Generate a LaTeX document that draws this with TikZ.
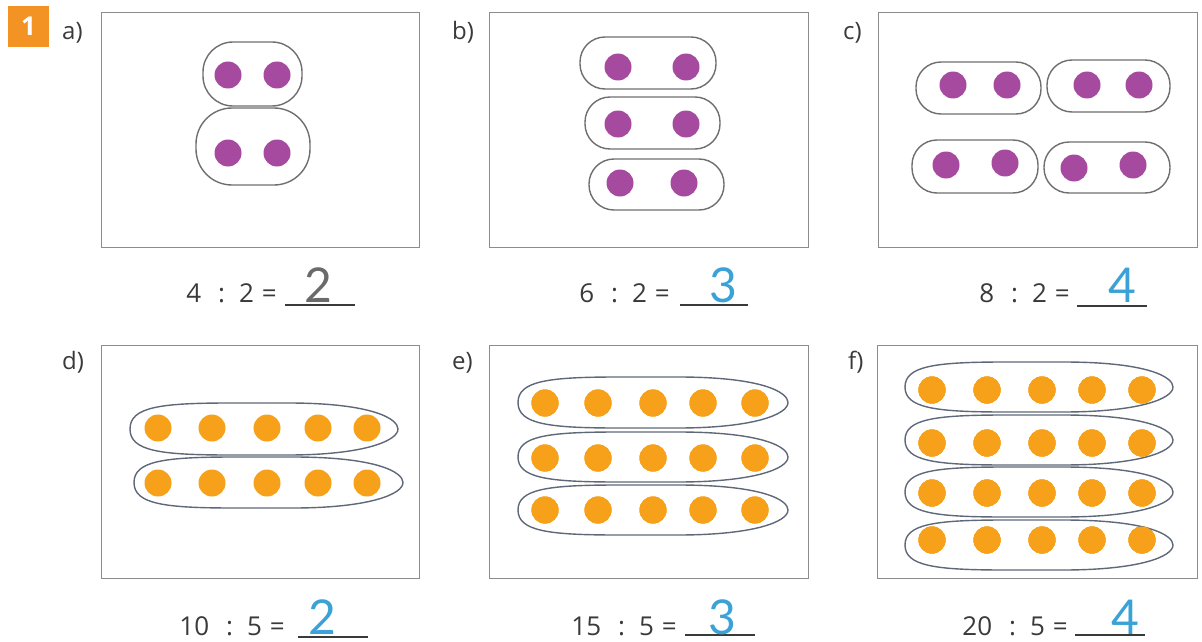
\documentclass[tikz,border=0pt]{standalone}
\usepackage{fontspec}
\setmainfont{Open Sans}
\newfontfamily\handfont{Lato}
\definecolor{dotpurple}{HTML}{A54A9F}
\definecolor{dotorange}{HTML}{F7A11A}
\definecolor{inkblue}{HTML}{3AA2D6}
\definecolor{inkgray}{HTML}{6A6A6A}
\definecolor{tagorange}{HTML}{F39324}
\definecolor{textgray}{HTML}{3A3A3A}
\definecolor{ringgray}{HTML}{6E6E6E}
\definecolor{ringblue}{HTML}{5E6878}
\tikzset{
  panel/.style={draw=black!45, line width=1pt},
  ringp/.style={draw=ringgray, line width=1.4pt},
  ringo/.style={draw=ringblue, line width=1.4pt},
  dotp/.style={fill=dotpurple},
  doto/.style={fill=dotorange},
  eqn/.style={anchor=base east, text=textgray, inner sep=0pt, font=\fontsize{26}{30}\selectfont},
  answer/.style={anchor=base, inner sep=0pt, font=\handfont\fontsize{48}{52}\selectfont},
  tag/.style={anchor=base west, text=textgray, inner sep=0pt, font=\fontsize{24}{28}\selectfont},
  gap/.style={textgray, line width=1.2pt}
}
% long loop round a row of dots: left x, right x, top y, bottom y
\newcommand\pill[4]{%
  \draw[ringo] (#1,{(#3+#4)/2}) .. controls (#1,#3+4) and (#1+30,#3) .. (#1+100,#3)
    -- (#2-110,#3) .. controls (#2-25,#3) and (#2,{(#3+#4)/2-10}) .. (#2,{(#3+#4)/2})
    .. controls (#2,{(#3+#4)/2+12}) and (#2-35,#4) .. (#2-110,#4)
    -- (#1+100,#4) .. controls (#1+30,#4) and (#1,#4-4) .. cycle;}
\newcommand\eq[3]{#1\hspace{17pt}:\hspace{14pt}#2\hspace{8pt}#3}
\begin{document}
\begin{tikzpicture}[x=1pt,y=-1pt]
\useasboundingbox (0,0) rectangle (1202,642);

% task number
\fill[tagorange] (8,6) rectangle (49,47);
\node[text=white, font=\bfseries\fontsize{26}{30}\selectfont] (num) at (28.5,26.5) {1};

% frames
\draw[panel] (101,13) rectangle (419,247);
\draw[panel] (489,13) rectangle (808,247);
\draw[panel] (878,13) rectangle (1197,247);
\draw[panel] (101,345) rectangle (419,578);
\draw[panel] (489,345) rectangle (808,578);
\draw[panel] (877,345) rectangle (1197,578);

\node[tag] (la) at (62,40) {a)};
\node[tag] (lb) at (452,40) {b)};
\node[tag] (lc) at (843,40) {c)};
\node[tag] (ld) at (62,369) {d)};
\node[tag] (le) at (452,369) {e)};
\node[tag] (lf) at (848,369) {f)};

% a)
\draw[ringp, rounded corners=30pt] (203,42) rectangle (302,106);
\draw[ringp, rounded corners=36pt] (196,108) rectangle (310,185);
\foreach \x/\y in {228/75, 277/75, 228/153, 277/153}
  \fill[dotp] (\x,\y) circle[radius=13.5];

% b)
\draw[ringp, rounded corners=25pt] (580,37) rectangle (716,89);
\draw[ringp, rounded corners=25pt] (585,97) rectangle (720,149);
\draw[ringp, rounded corners=25pt] (589,159) rectangle (724,210);
\foreach \x/\y in {618/67, 686/67, 618/124, 686/124, 620/183, 684/183}
  \fill[dotp] (\x,\y) circle[radius=13.5];

% c)
\draw[ringp, rounded corners=25pt] (916,62) rectangle (1041,114);
\draw[ringp, rounded corners=25pt] (1047,60) rectangle (1170,112);
\draw[ringp, rounded corners=25pt] (912,140) rectangle (1038,193);
\draw[ringp, rounded corners=25pt] (1044,142) rectangle (1170,193);
\foreach \x/\y in {953/85, 1007/85, 1087/85, 1139/85, 946/165, 1005/163, 1074/168, 1133/165}
  \fill[dotp] (\x,\y) circle[radius=13.5];

% d)
\pill{130}{398}{403}{455}
\pill{134}{403}{457}{508}
\foreach \y in {428,483}
  \foreach \x in {158,212,267,318,367}
    \fill[doto] (\x,\y) circle[radius=13.5];

% e)
\foreach \t/\b in {377/428, 432/482, 485/535}
  \pill{518}{788}{\t}{\b}
\foreach \y in {403,458,510}
  \foreach \x in {545,598,653,703,755}
    \fill[doto] (\x,\y) circle[radius=13.5];

% f)
\foreach \t/\b in {362/412, 415/465, 467/517, 520/570}
  \pill{905}{1173}{\t}{\b}
\foreach \y in {390,443,493,540}
  \foreach \x in {932,987,1042,1092,1142}
    \fill[doto] (\x,\y) circle[radius=13.5];

% equations
\node[eqn] (ea) at (277,302) {\eq{4}{2}{=}};
\node[eqn] (eb) at (670,302) {\eq{6}{2}{=}};
\node[eqn] (ec) at (1070,302) {\eq{8}{2}{=}};
\node[eqn] (ed) at (285,635) {\eq{10}{5}{=}};
\node[eqn] (ee) at (677,635) {\eq{15}{5}{=}};
\node[eqn] (ef) at (1068,635) {\eq{20}{5}{=}};

\draw[gap] (285,305) -- (355,305);
\draw[gap] (680,305) -- (748,305);
\draw[gap] (1077,306) -- (1147,306);
\draw[gap] (298,637) -- (368,637);
\draw[gap] (685,635) -- (755,635);
\draw[gap] (1075,635) -- (1145,635);

\node[answer, text=inkgray] (ra) at (318,302) {2};
\node[answer, text=inkblue] (rb) at (723,302) {3};
\node[answer, text=inkblue] (rc) at (1122,302) {4};
\node[answer, text=inkblue] (rd) at (322,634) {2};
\node[answer, text=inkblue] (re) at (722,634) {3};
\node[answer, text=inkblue] (rf) at (1125,634) {4};
\end{tikzpicture}
\end{document}
